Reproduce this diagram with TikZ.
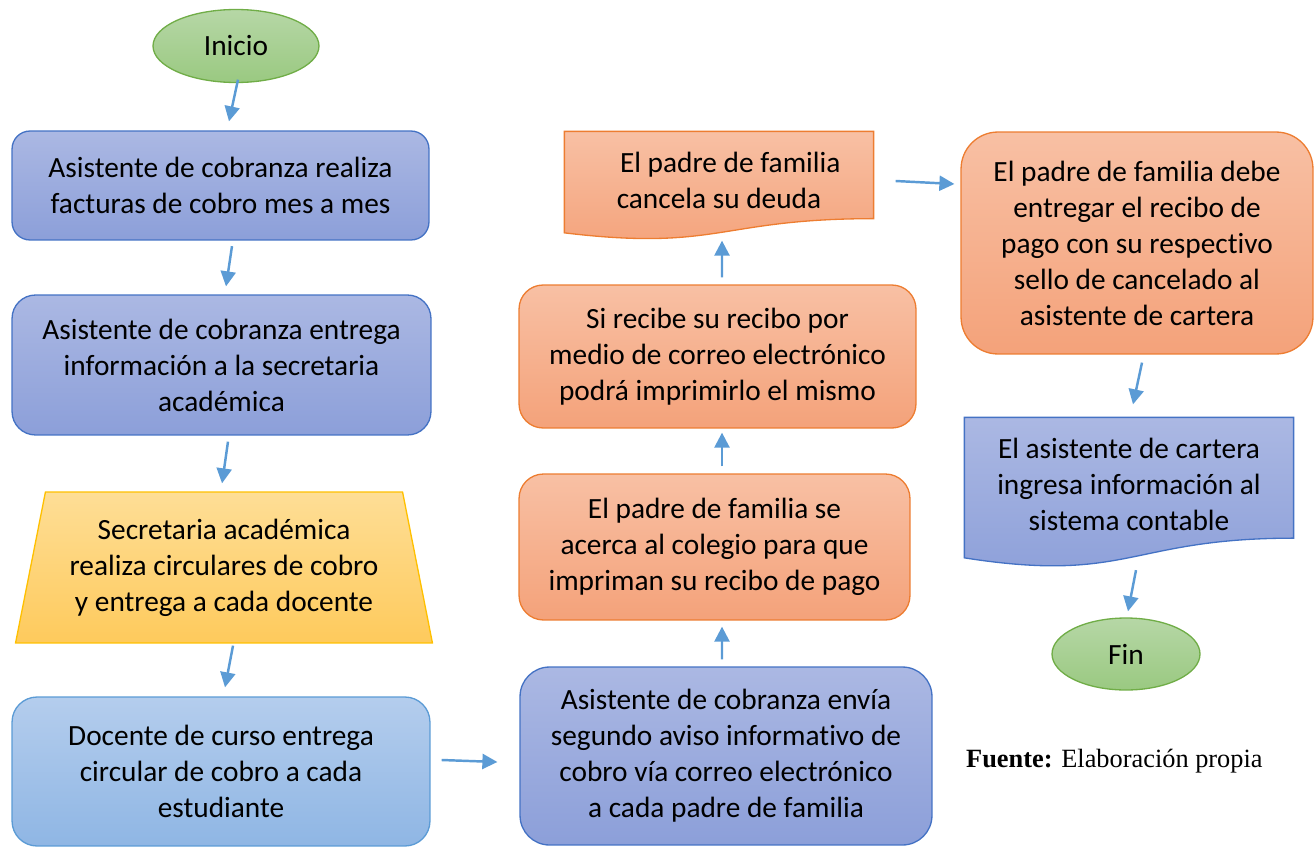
\documentclass[tikz,border=0pt]{standalone}
\usepackage{fontspec}
\setmainfont{Carlito}[Ligatures=NoCommon]
\newfontfamily\fuentefont{Liberation Serif}
\usetikzlibrary{arrows.meta, shapes.geometric, calc, backgrounds}
\definecolor{green-line}{RGB}{112,173,71}
\definecolor{green-top}{RGB}{182,215,166}
\definecolor{green-bottom}{RGB}{154,201,129}
\definecolor{blue-line}{RGB}{68,114,196}
\definecolor{blue-top}{RGB}{171,184,227}
\definecolor{blue-bottom}{RGB}{140,159,217}
\definecolor{sky-line}{RGB}{91,155,213}
\definecolor{sky-top}{RGB}{180,205,237}
\definecolor{sky-bottom}{RGB}{143,182,228}
\definecolor{gold-line}{RGB}{255,192,0}
\definecolor{gold-top}{RGB}{254,222,150}
\definecolor{gold-bottom}{RGB}{254,202,92}
\definecolor{orange-line}{RGB}{237,125,49}
\definecolor{orange-top}{RGB}{248,192,164}
\definecolor{orange-bottom}{RGB}{244,162,122}
\definecolor{arrow-blue}{RGB}{91,155,213}
\tikzstyle{box}=[rectangle, align=center, line width=0.75pt, font=\fontsize{16.7}{20.5}\selectfont]
\tikzstyle{terminal}=[box, ellipse, draw=green-line, top color=green-top, bottom color=green-bottom]
\tikzstyle{blue-box}=[box, draw=blue-line, top color=blue-top, bottom color=blue-bottom]
\tikzstyle{sky-box}=[box, draw=sky-line, top color=sky-top, bottom color=sky-bottom]
\tikzstyle{orange-box}=[box, draw=orange-line, top color=orange-top, bottom color=orange-bottom]
\tikzstyle{gold-box}=[box, trapezium, trapezium stretches=true, trapezium left angle=76.2, trapezium right angle=76.2, draw=gold-line, top color=gold-top, bottom color=gold-bottom]
\tikzstyle{doc-text}=[box, inner sep=0pt]
\tikzstyle{blue-doc}=[line width=0.75pt, draw=blue-line, top color=blue-top, bottom color=blue-bottom]
\tikzstyle{orange-doc}=[line width=0.75pt, draw=orange-line, top color=orange-top, bottom color=orange-bottom]
\tikzstyle{flow-arrow}=[draw=arrow-blue, line width=1.4pt, -{Triangle[length=0.3cm,width=0.3cm]}]
\begin{document}
\begin{tikzpicture}[x=0.02cm, y=-0.02cm]
\useasboundingbox (0,0) rectangle (1314,848);

% left column
\node[terminal, minimum width=3.32cm, minimum height=1.46cm] (inicio) at (236,46) {Inicio};
\node[blue-box, rounded corners=0.36cm, minimum width=8.34cm, minimum height=2.18cm] (facturas) at (220.5,185.5)
  {Asistente de cobranza realiza\\facturas de cobro mes a mes};
\node[blue-box, rounded corners=0.47cm, minimum width=8.38cm, minimum height=2.8cm] (secretaria) at (221.5,365)
  {Asistente de cobranza entrega\\información a la secretaria\\académica};
\node[gold-box, minimum width=8.36cm, minimum height=3.02cm] (circulares) at (224,567.5)
  {Secretaria académica\\realiza circulares de cobro\\y entrega a cada docente};
\node[sky-box, rounded corners=0.5cm, minimum width=8.36cm, minimum height=2.98cm] (docente) at (221,771.5)
  {Docente de curso entrega\\circular de cobro a cada\\estudiante};

% middle column
\node[blue-box, rounded corners=0.59cm, minimum width=8.24cm, minimum height=3.56cm] (aviso) at (726,756)
  {Asistente de cobranza envía\\segundo aviso informativo de\\cobro vía correo electrónico\\a cada padre de familia};
\node[orange-box, rounded corners=0.49cm, minimum width=7.82cm, minimum height=2.92cm] (colegio) at (714.5,547)
  {El padre de familia se\\acerca al colegio para que\\impriman su recibo de pago};
\node[orange-box, rounded corners=0.48cm, minimum width=7.94cm, minimum height=2.86cm] (correo) at (717.5,356.5)
  {Si recibe su recibo por\\medio de correo electrónico\\podrá imprimirlo el mismo};
\node[doc-text, minimum width=6.16cm, minimum height=1.92cm] (deuda) at (719,180)
  {\hspace*{0.45cm}El padre de familia\\cancela su deuda};

% right column
\node[orange-box, rounded corners=0.74cm, minimum width=7.04cm, minimum height=4.44cm] (cartera) at (1137,243)
  {El padre de familia debe\\entregar el recibo de\\pago con su respectivo\\sello de cancelado al\\asistente de cartera};
\node[doc-text, minimum width=6.56cm, minimum height=2.64cm] (contable) at (1129,484)
  {El asistente de cartera\\ingresa información al\\sistema contable};
\node[terminal, minimum width=2.96cm, minimum height=1.44cm] (fin) at (1126,654) {Fin};
\node[anchor=west, font=\fuentefont\fontsize{15}{18}\selectfont] (fuente) at (960,761)
  {\textbf{Fuente:} Elaboración propia};

\begin{pgfonlayer}{background}
\path[orange-doc] (deuda.north west) -- (deuda.north east) -- ([shift={(0,-10)}]deuda.south east)
  .. controls ([shift={(0,-10)}]deuda.south) and ([shift={(0,22.8)}]deuda.south) .. ([shift={(0,4.2)}]deuda.south west) -- cycle;
\path[blue-doc] (contable.north west) -- (contable.north east) -- ([shift={(0,-12.5)}]contable.south east)
  .. controls ([shift={(0,-12.5)}]contable.south) and ([shift={(0,33.1)}]contable.south) .. ([shift={(0,7.2)}]contable.south west) -- cycle;
\end{pgfonlayer}

% connectors
\draw[flow-arrow] ([shift={(2,-3.5)}]inicio.south) -- ([shift={(8.5,-9)}]facturas.north);
\draw[flow-arrow] ([shift={(11.5,5.5)}]facturas.south) -- ([shift={(4.5,-8)}]secretaria.north);
\draw[flow-arrow] ([shift={(6.5,6)}]secretaria.south) -- ([shift={(-2,-8)}]circulares.north);
\draw[flow-arrow] ([shift={(9,2)}]circulares.south) -- ([shift={(4,-9)}]docente.north);
\draw[flow-arrow] ([shift={(11,-11.5)}]docente.east) -- ([shift={(-22,6)}]aviso.west);
\draw[flow-arrow] ([shift={(-4,-7)}]aviso.north) -- ([shift={(7.5,6)}]colegio.south);
\draw[flow-arrow] ([shift={(7.5,-7)}]colegio.north) -- ([shift={(4.5,4)}]correo.south);
\draw[flow-arrow] ([shift={(4.5,-7)}]correo.north) -- ([shift={(3,12)}]deuda.south);
\draw[flow-arrow] ([shift={(22,1)}]deuda.east) -- ([shift={(-6,-59)}]cartera.west);
\draw[flow-arrow] ([shift={(5,8)}]cartera.south) -- ([shift={(4,-13)}]contable.north);
\draw[flow-arrow] ([shift={(7,19.5)}]contable.south) -- ([shift={(2,-6)}]fin.north);
\end{tikzpicture}
\end{document}
